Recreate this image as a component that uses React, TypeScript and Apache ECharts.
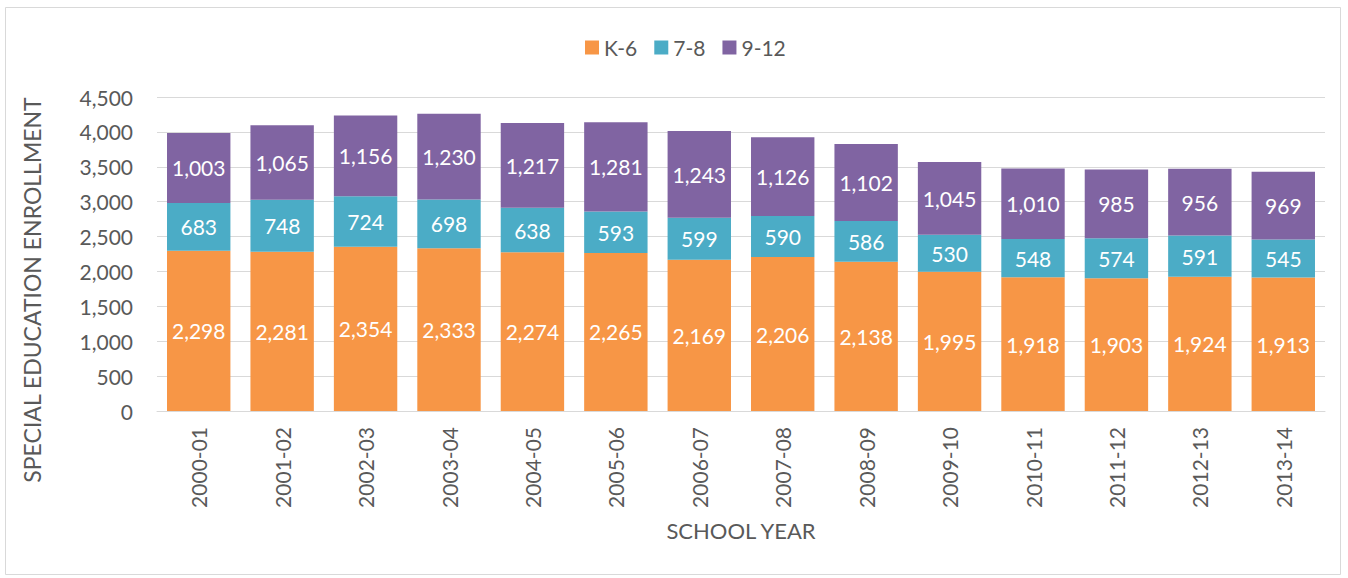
import React, { useEffect, useRef } from "react";
import * as echarts from "echarts";

const years = ["2000-01","2001-02","2002-03","2003-04","2004-05","2005-06","2006-07","2007-08","2008-09","2009-10","2010-11","2011-12","2012-13","2013-14"];
const k6 = [2298,2281,2354,2333,2274,2265,2169,2206,2138,1995,1918,1903,1924,1913];
const g78 = [683,748,724,698,638,593,599,590,586,530,548,574,591,545];
const g912 = [1003,1065,1156,1230,1217,1281,1243,1126,1102,1045,1010,985,956,969];

const FONT = "Lato, 'Open Sans', sans-serif";
const TXT = "#595959";

export default function App() {
  const ref = useRef<HTMLDivElement>(null);
  useEffect(() => {
    document.body.style.margin = "0";
    const chart = echarts.init(ref.current!, null, { renderer: "svg" });
    const lbl = {
      show: true,
      position: "inside" as const,
      color: "#ffffff",
      fontSize: 21,
      fontFamily: FONT,
      formatter: (p: any) => Number(p.value).toLocaleString("en-US"),
    };
    const mk = (name: string, data: number[], color: string) => ({
      name,
      type: "bar",
      stack: "total",
      data,
      barCategoryGap: "24%",
      itemStyle: { color },
      label: lbl,
    });
    chart.setOption({
      animation: false,
      textStyle: { fontFamily: FONT },
      graphic: [
        {
          type: "rect",
          shape: { x: 5.5, y: 7.5, width: 1335, height: 567 },
          style: { fill: "none", stroke: "#d9d9d9", lineWidth: 1 },
          silent: true,
        },
        {
          type: "text",
          x: 32,
          y: 290,
          rotation: Math.PI / 2,
          style: {
            text: "SPECIAL EDUCATION ENROLLMENT",
            fill: TXT,
            fontSize: 23,
            fontFamily: FONT,
            align: "center",
            verticalAlign: "middle",
          },
          silent: true,
        },
      ],
      legend: {
        top: 32,
        left: 580,
        itemWidth: 14,
        itemHeight: 14,
        itemGap: 17,
        icon: "rect",
        textStyle: { color: TXT, fontSize: 21, fontFamily: FONT },
        data: ["K-6", "7-8", "9-12"],
      },
      grid: { left: 157, right: 23, top: 97, bottom: 167, containLabel: false },
      xAxis: {
        type: "category",
        data: years,
        axisLine: { lineStyle: { color: "#d9d9d9", width: 1 } },
        axisTick: { show: false },
        axisLabel: { rotate: 90, color: TXT, fontSize: 21, fontFamily: FONT, margin: 16 },
        name: "SCHOOL YEAR",
        nameLocation: "middle",
        nameGap: 108,
        nameTextStyle: { color: TXT, fontSize: 22, fontFamily: FONT },
      },
      yAxis: {
        type: "value",
        min: 0,
        max: 4500,
        interval: 500,
        axisLine: { show: false },
        axisTick: { show: false },
        splitLine: { lineStyle: { color: "#d9d9d9", width: 1 } },
        axisLabel: {
          color: TXT,
          fontSize: 21,
          fontFamily: FONT,
          margin: 24,
          formatter: (v: number) => v.toLocaleString("en-US"),
        },
      },
      series: [
        mk("K-6", k6, "#F79646"),
        mk("7-8", g78, "#4BACC6"),
        mk("9-12", g912, "#8064A2"),
      ],
    });
    return () => chart.dispose();
  }, []);
  return <div ref={ref} style={{ width: 1348, height: 578 }} />;
}
